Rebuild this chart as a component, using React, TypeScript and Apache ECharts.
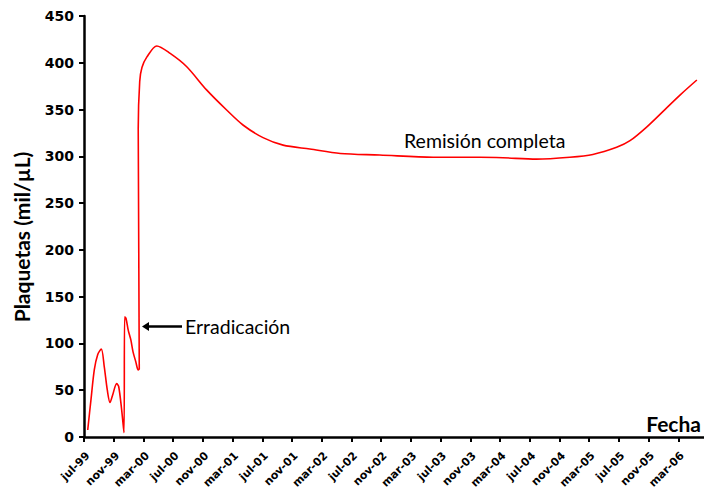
import React, { useEffect, useRef } from 'react';
import * as echarts from 'echarts';

// x positions are months elapsed since jul-99
const tickLabels = [
  'jul-99', 'nov-99', 'mar-00', 'jul-00', 'nov-00', 'mar-01', 'jul-01', 'nov-01',
  'mar-02', 'jul-02', 'nov-02', 'mar-03', 'jul-03', 'nov-03', 'mar-04', 'jul-04',
  'nov-04', 'mar-05', 'jul-05', 'nov-05', 'mar-06',
];

const months = [
  0.5, 0.94, 1.39, 1.84, 2.33, 2.73, 3.14, 3.5, 3.86, 4.4, 4.67, 5.07, 5.38,
  5.47, 5.65, 5.96, 6.3, 6.6, 6.97, 7.3, 7.44,
  7.3, 7.5, 7.8, 8.45, 9.8, 11.6, 13.8, 16.5, 19.2, 21.4, 24.1, 26.8, 30.4,
  34.5, 39.8, 47, 53.3, 56.4, 60.9, 65.4, 68.5, 71.7, 73.5, 75.7, 78.2, 80.3, 82.5,
];

const platelets = [
  7.5, 40, 72, 88, 94, 75, 50, 37, 45, 57, 54, 29, 4.6,
  128.6, 127, 114, 104, 91, 80.5, 71.6, 73,
  330, 380, 395, 406, 418, 410, 396, 371, 349.5, 333.5, 320, 312, 307.8,
  303, 301.4, 299, 299, 298.5, 297, 299, 302, 309.6, 316.7, 331, 350, 366, 381.6,
];

const yTitle = 'Plaquetas (mil/µL)';
const xTitle = 'Fecha';
const noteRemission = 'Remisión completa';
const noteEradication = 'Erradicación';

export default function App() {
  const ref = useRef<HTMLDivElement>(null);

  useEffect(() => {
    document.body.style.margin = '0';
    if (!ref.current) return;
    const chart = echarts.init(ref.current, null, { renderer: 'svg' });
    const tickFont = { fontFamily: 'DejaVu Sans', fontWeight: 'bold' as const, color: '#000' };
    chart.setOption({
      animation: false,
      backgroundColor: '#fff',
      grid: { left: 84, top: 16, width: 624, height: 421, outerBoundsMode: 'none', containLabel: false },
      xAxis: {
        type: 'value',
        min: 0,
        max: 84,
        interval: 4,
        axisLine: { lineStyle: { color: '#000', width: 2.5 } },
        axisTick: { length: 5, lineStyle: { color: '#000', width: 2 } },
        splitLine: { show: false },
        axisLabel: {
          ...tickFont,
          fontSize: 11,
          rotate: 45,
          margin: 13,
          align: 'right',
          verticalAlign: 'top',
          formatter: (v: number) => tickLabels[Math.round(v / 4)] ?? '',
        },
      },
      yAxis: {
        type: 'value',
        min: 0,
        max: 450,
        interval: 50,
        axisLine: { show: true, lineStyle: { color: '#000', width: 2.5 } },
        axisTick: { show: true, length: 5, lineStyle: { color: '#000', width: 2 } },
        splitLine: { show: false },
        axisLabel: { ...tickFont, fontSize: 14, margin: 10 },
      },
      series: [
        {
          type: 'line',
          data: months.map((m, i) => [m, platelets[i]]),
          smooth: 0.3,
          showSymbol: false,
          lineStyle: { color: '#ff0000', width: 1.6 },
        },
      ],
      graphic: [
        {
          type: 'text',
          x: 21,
          y: 237,
          rotation: Math.PI / 2,
          style: {
            text: yTitle,
            font: 'bold 21px Lato',
            fill: '#000',
            align: 'center',
            verticalAlign: 'middle',
          },
        },
        {
          type: 'text',
          x: 701,
          y: 423,
          style: {
            text: xTitle,
            font: 'bold 21px Lato',
            fill: '#000',
            align: 'right',
            verticalAlign: 'middle',
          },
        },
        {
          type: 'text',
          x: 404,
          y: 140,
          style: {
            text: noteRemission,
            font: '19.5px Lato',
            fill: '#000',
            align: 'left',
            verticalAlign: 'middle',
          },
        },
        {
          type: 'text',
          x: 185,
          y: 326,
          style: {
            text: noteEradication,
            font: '19.5px Lato',
            fill: '#000',
            align: 'left',
            verticalAlign: 'middle',
          },
        },
        {
          type: 'line',
          shape: { x1: 182, y1: 326.5, x2: 146, y2: 326.5 },
          style: { stroke: '#000', lineWidth: 2.5 },
        },
        {
          type: 'polygon',
          shape: { points: [[142, 326.5], [149, 322], [149, 331]] },
          style: { fill: '#000' },
        },
      ],
    });
    return () => chart.dispose();
  }, []);

  return (
    <div
      ref={ref}
      style={{ position: 'fixed', left: 0, top: 0, width: 704, height: 491 }}
    />
  );
}
